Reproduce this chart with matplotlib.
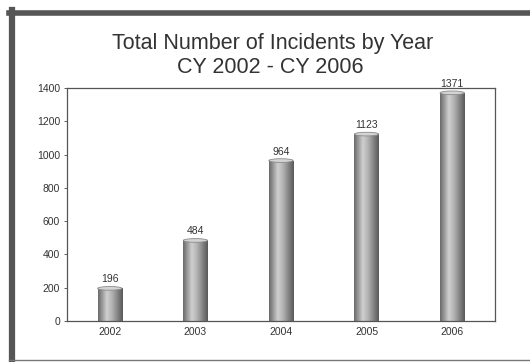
import numpy as np
import matplotlib
matplotlib.use("Agg")
import matplotlib.pyplot as plt
from matplotlib.patches import Ellipse
from matplotlib.lines import Line2D
from matplotlib.colors import LinearSegmentedColormap

years = ["2002", "2003", "2004", "2005", "2006"]
incidents = [196, 484, 964, 1123, 1371]
yticks = [0, 200, 400, 600, 800, 1000, 1200, 1400]
title_lines = ["Total Number of Incidents by Year", "CY 2002 - CY 2006"]

plt.rcParams['font.family'] = ['Liberation Sans', 'DejaVu Sans']

fig = plt.figure(figsize=(5.30, 3.62), dpi=100)
fig.patch.set_facecolor("white")
ax = fig.add_axes([67/530, 1-321/362, (495-67)/530, (321-88)/362])

x = np.arange(len(years))
w = 0.284
cmap = LinearSegmentedColormap.from_list(
    "cyl", [(0, "#6a6a6a"), (0.35, "#cfcfcf"), (0.55, "#b5b5b5"), (1, "#5a5a5a")])
grad = np.linspace(0, 1, 64).reshape(1, -1)

bars = ax.bar(x, incidents, width=w, color="none", edgecolor="none")
for b, v in zip(bars, incidents):
    x0 = b.get_x()
    im = ax.imshow(grad, cmap=cmap, aspect="auto",
                   extent=[x0, x0 + w, 0, v], zorder=2, interpolation="bilinear")
    im.set_clip_path(b)
    ax.add_patch(Ellipse((x0 + w/2, v), w, 22, facecolor="#d4d4d4",
                         edgecolor="#8a8a8a", lw=0.6, zorder=3, clip_on=False))
    ax.text(x0 + w/2, v + 24, str(v), ha="center", va="bottom",
            fontsize=7.5, color="#333333", zorder=4)

ax.set_xlim(-0.5, len(years) - 0.5)
ax.set_ylim(0, 1400)
ax.set_yticks(yticks)
ax.set_xticks(x)
ax.set_xticklabels(years)
ax.tick_params(axis="both", labelsize=7.5, colors="#444444", length=2, width=0.6,
               labelcolor="#333333", pad=3)
ax.tick_params(axis="x", length=0, pad=4)
for s in ax.spines.values():
    s.set_color("#555555")
    s.set_linewidth(0.9)
ax.set_facecolor("white")

fig.text(0.515, 1-49/362, title_lines[0], ha="center", va="baseline",
         fontsize=15.5, color="#333333")
fig.text(0.51, 1-73/362, title_lines[1], ha="center", va="baseline",
         fontsize=15.5, color="#333333")

# outer frame
fig.add_artist(Line2D([11.5/530, 11.5/530], [1-10/362, 1-361/362], color="#555555",
                      lw=4.5, transform=fig.transFigure))
fig.add_artist(Line2D([9/530, 1.0], [1-13/362, 1-13/362], color="#555555",
                      lw=4.0, transform=fig.transFigure))
fig.add_artist(Line2D([9/530, 1.0], [1-360/362, 1-360/362], color="#777777",
                      lw=1.0, transform=fig.transFigure))

fig.savefig("out.png", dpi=100, facecolor="white")
